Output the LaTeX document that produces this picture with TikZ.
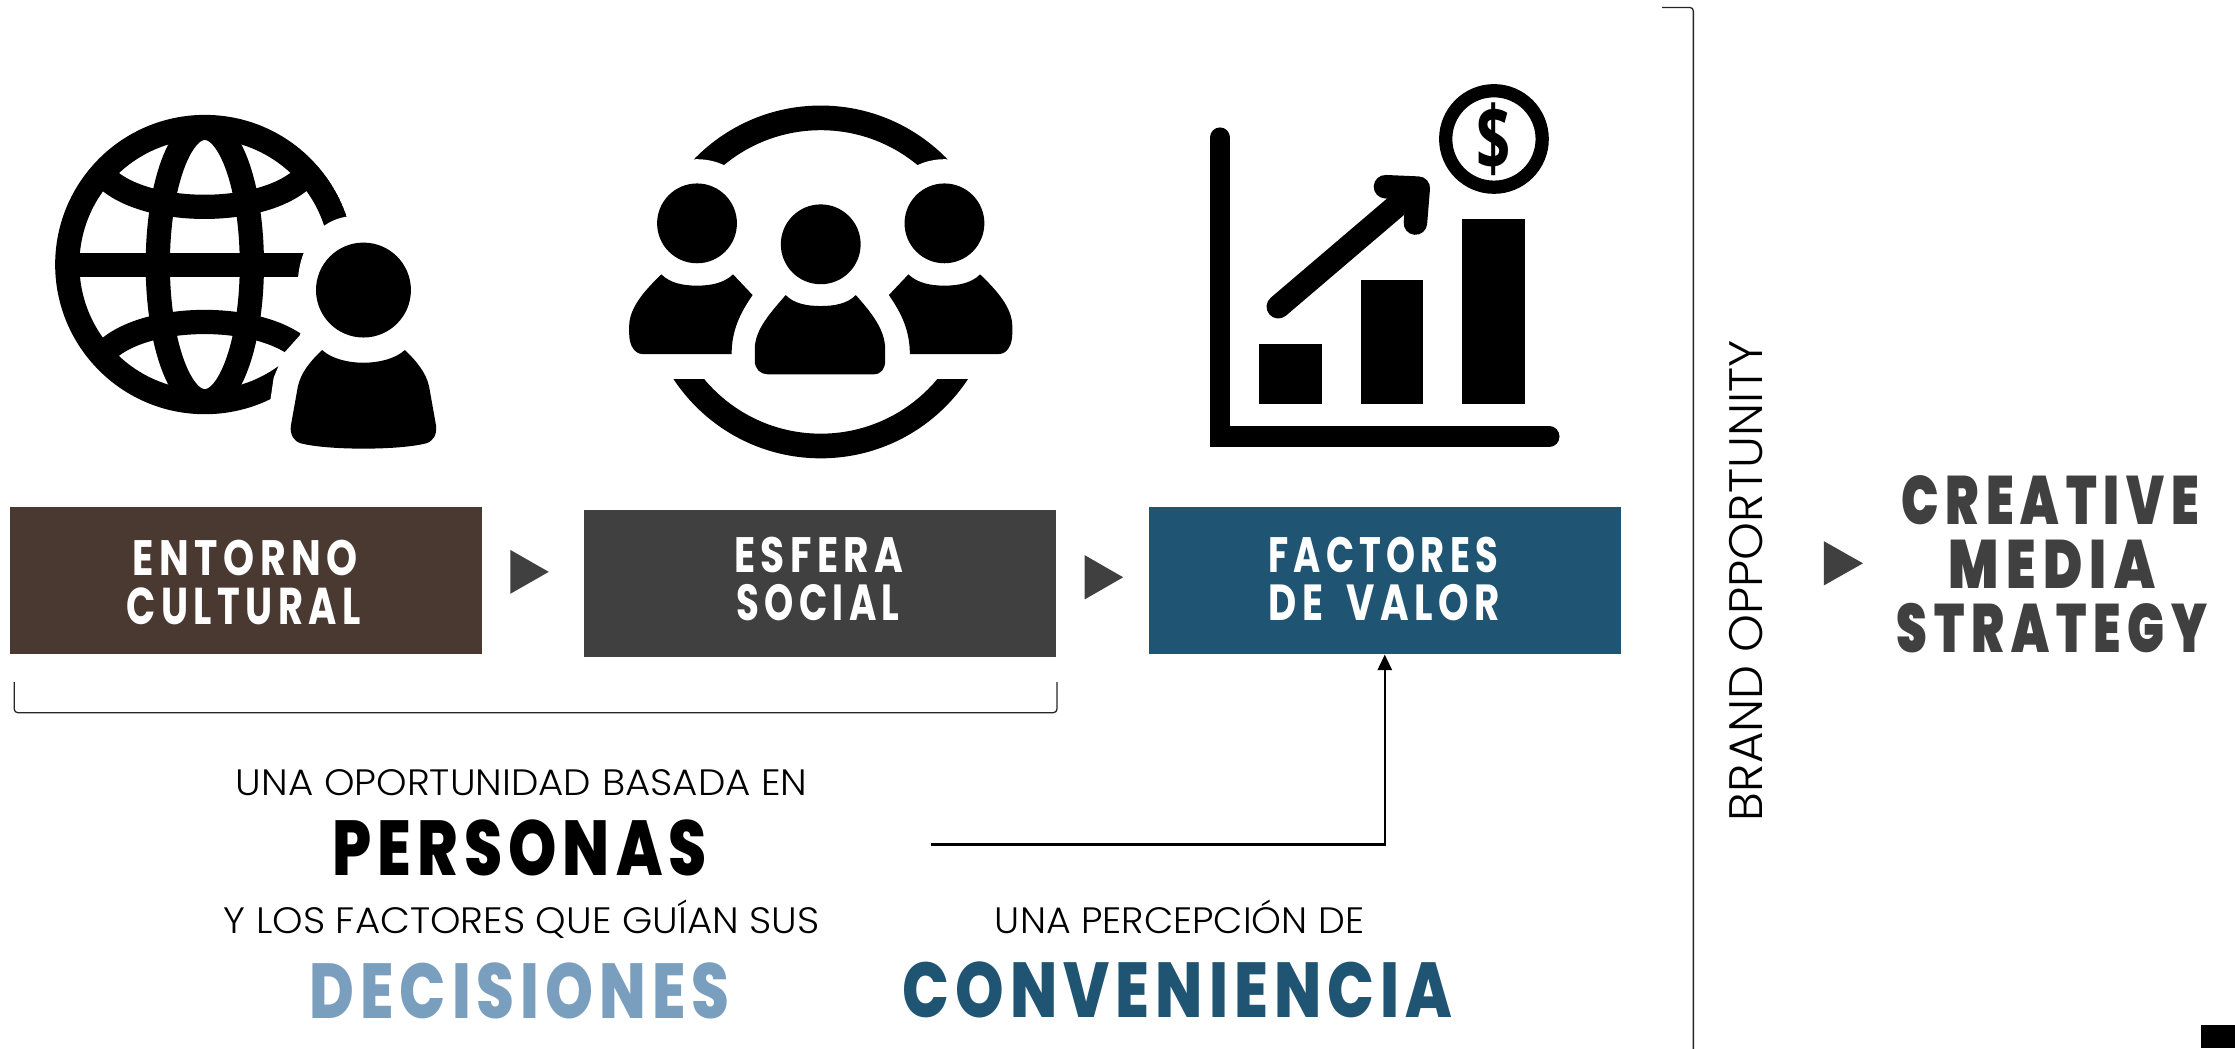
\documentclass[tikz,border=0pt]{standalone}
\usepackage{fontspec}
\usepackage{graphicx}
\usetikzlibrary{arrows.meta}
\newfontfamily\fb[LetterSpace=14]{Poppins Bold}
\newfontfamily\fx[LetterSpace=10]{Poppins ExtraBold}
\newfontfamily\fk[LetterSpace=14]{Poppins Black}
\newfontfamily\fl{Poppins Light}
\newfontfamily\fd{Open Sans Bold}
\definecolor{cbrown}{HTML}{4A3931}
\definecolor{cgrey}{HTML}{404040}
\definecolor{cblue}{HTML}{1F5573}
\definecolor{clight}{HTML}{7A9FBE}
\newsavebox\tbA
\newsavebox\tbB
% font, target width, target cap height, text
\newcommand\fit[4]{\begingroup#1\sbox\tbA{#4}\sbox\tbB{H}%
\pgfmathsetmacro\sxx{#2/\the\wd\tbA}\pgfmathsetmacro\syy{#3/\the\ht\tbB}%
\scalebox{\sxx}[\syy]{\usebox\tbA}\endgroup}
\tikzset{
 txt/.style={anchor=base,inner sep=0pt,outer sep=0pt},
 boxn/.style={draw=none,inner sep=0pt,minimum width=331pt,minimum height=103pt},
 tri/.style={fill=cgrey},
 thinline/.style={draw=black!85,line width=0.9pt,rounded corners=2.5pt},
 ic/.style={fill=black,draw=none}
}
\begin{document}
\begin{tikzpicture}[x=1pt,y=-1pt]
\useasboundingbox (0,0) rectangle (1568,735.26);
% ---- boxes
\node[boxn,fill=cbrown] (b1) at (172.5,407.5) {};
\node[boxn,fill=cgrey]  (b2) at (575.5,409.5) {};
\node[boxn,fill=cblue]  (b3) at (971.5,407.5) {};
\node[txt,text=white] (t1a) at (172,403.5) {\fit{\fb}{158}{24.5}{ENTORNO}};
\node[txt,text=white] (t1b) at (171,438) {\fit{\fb}{164}{25.5}{CULTURAL}};
\node[txt,text=white] (t2a) at (574.5,401.5) {\fit{\fb}{119}{24.5}{ESFERA}};
\node[txt,text=white] (t2b) at (574,435.5) {\fit{\fb}{114}{25}{SOCIAL}};
\node[txt,text=white] (t3a) at (970.5,401.5) {\fit{\fb}{161}{24.5}{FACTORES}};
\node[txt,text=white] (t3b) at (971,435.5) {\fit{\fb}{162}{25}{DE\hspace{0.6em}VALOR}};
% ---- triangles
\fill[tri] (358,385.8) -- (385,401.2) -- (358,416.6) -- cycle;
\fill[tri] (761,389.5) -- (788,405) -- (761,420.5) -- cycle;
\fill[tri] (1279.6,379.7) -- (1307,395.2) -- (1279.6,410.7) -- cycle;
% ---- brackets
\coordinate (brA) at (10,478.6);
\coordinate (brB) at (10,500);
\coordinate (brC) at (741.5,500);
\coordinate (brD) at (741.5,478.6);
\draw[thinline] (brA) -- (brB) -- (brC) -- (brD);
\coordinate (vA) at (1166,5.2);
\coordinate (vB) at (1188,5.2);
\coordinate (vC) at (1188,736);
\draw[thinline] (vA) -- (vB) -- (vC);
% ---- connector
\coordinate (ps) at (653,592.5);
\draw[line width=1.6pt,-{Stealth[inset=0pt,length=11pt,width=10pt]}] (ps) -| (b3.south);
% ---- texts
\node[txt] (u1) at (366,558) {\fit{\fl}{401}{18}{UNA OPORTUNIDAD BASADA EN}};
\node[txt] (p1) at (364.5,614.5) {\fit{\fx}{263}{38.5}{PERSONAS}};
\node[txt] (u2) at (366,655) {\fit{\fl}{418}{18}{Y LOS FACTORES QUE GUÍAN SUS}};
\node[txt] (u3) at (827.5,655) {\fit{\fl}{259}{18}{UNA PERCEPCIÓN DE}};
\node[txt,text=clight] (d1) at (364.5,714.5) {\fit{\fx}{295}{38.5}{DECISIONES}};
\node[txt,text=cblue] (c1) at (826,714) {\fit{\fx}{386}{38.5}{CONVENIENCIA}};
\node[txt,rotate=90] (bo) at (1236.5,407.5) {\fit{\fl}{337}{23}{BRAND OPPORTUNITY}};
\node[txt,text=cgrey] (s1) at (1438.5,368) {\fit{\fk}{209}{34}{CREATIVE}};
\node[txt,text=cgrey] (s2) at (1439.5,413) {\fit{\fk}{145}{34}{MEDIA}};
\node[txt,text=cgrey] (s3) at (1439.5,458) {\fit{\fk}{218}{34}{STRATEGY}};
% ---- black square
\fill[black] (1544,719) rectangle (1568,735.26);
% ---- globe icon
\begin{scope}
 \clip (143.7,185.6) circle (105.2pt);
 \draw[line width=17pt] (143.7,185.6) circle (96.5pt);
 \draw[line width=17pt] (143.7,185.6) ellipse (33pt and 96pt);
 \draw[line width=17pt] (70,120) .. controls (95,153.5) and (192,153.5) .. (217,120);
 \draw[line width=17pt] (70,251) .. controls (95,217.5) and (192,217.5) .. (217,251);
 \fill (40,177.7) rectangle (225,194.6);
\end{scope}
\fill[white] (243,152) .. controls (225,155) and (211,170) .. (209,196)
 .. controls (208,212) and (212,226) .. (210.6,235) -- (199,248) -- (192,265) -- (189.5,282)
 -- (189.5,300) -- (320,325) -- (320,140) -- cycle;
\fill[ic] (255,203.5) circle (33.3pt);
\fill[ic] (226,245.6) .. controls (233,252) and (245,254.5) .. (255,254.5)
 .. controls (265,254.5) and (277,252) .. (284,245.6)
 .. controls (293,254) and (299,262) .. (301,271) -- (306,299)
 .. controls (306.5,305) and (304,309.5) .. (299,311)
 .. controls (280,316) and (230,316) .. (211,311)
 .. controls (206,309.5) and (203.5,305) .. (204,299) -- (209,271)
 .. controls (211,262) and (217,254) .. (226,245.6) -- cycle;
% ---- people icon
\begin{scope}
 \clip (460,60) rectangle (690,118);
 \draw[line width=17.3pt] (575.8,197.8) circle (115.1pt);
\end{scope}
\begin{scope}
 \clip (460,266) rectangle (690,330);
 \draw[line width=17.3pt] (575.8,197.8) circle (115.1pt);
\end{scope}
\fill[white] (489,156.7) circle (45pt);
\fill[white] (662.6,156.7) circle (45pt);
\foreach \hx/\hy in {489/156.7,662.6/156.7,575.8/171.4}
  \fill[ic] (\hx,\hy) circle (28pt);
\fill[ic] (551.2,207) .. controls (557,213) and (566,214.7) .. (575.8,214.7)
 .. controls (585.6,214.7) and (594.6,213) .. (600.4,207)
 .. controls (611,219) and (621,231) .. (621,245) -- (621,253)
 .. controls (621,259) and (618,262.6) .. (613,262.6) -- (538.6,262.6)
 .. controls (533.6,262.6) and (529.5,259) .. (529.5,253) -- (529.5,245)
 .. controls (529.5,231) and (541,219) .. (551.2,207) -- cycle;
\foreach \xs/\xo in {1/0,-1/1151.6}{
\fill[ic,xshift=\xo pt,xscale=\xs] (464,192.5) .. controls (470,198.5) and (479,200.4) .. (489,200.4)
 .. controls (499,200.4) and (508,198.5) .. (514.3,192.5) -- (528,207)
 .. controls (519,220) and (513.3,232) .. (513.3,248.4) -- (451,248.4)
 .. controls (445,248.4) and (441.4,242) .. (441.4,234) -- (441.4,229)
 .. controls (441.4,216) and (452,204) .. (464,192.5) -- cycle;
}
% ---- chart icon
\draw[line width=14.2pt,line cap=round,miter limit=10] (855.9,96.5) -- (855.9,306.3) -- (1087,306.3);
\fill[ic] (883.3,241.6) rectangle (927.2,283.7);
\fill[ic] (954.6,196.5) rectangle (998.3,283.7);
\fill[ic] (1025.7,153.9) rectangle (1069.7,283.7);
\draw[line width=16.5pt,line cap=round,line join=round] (896.8,215.2) -- (992,134);
\draw[line width=16.5pt,line cap=round,line join=round] (972,131) -- (995,132) -- (993,156.5);
\draw[line width=9.3pt] (1048.1,97.5) circle (33.85pt);
\node[inner sep=0pt] (dol) at (1047.5,97.5) {\resizebox{24pt}{47.5pt}{\fd\$}};
\end{tikzpicture}
\end{document}
